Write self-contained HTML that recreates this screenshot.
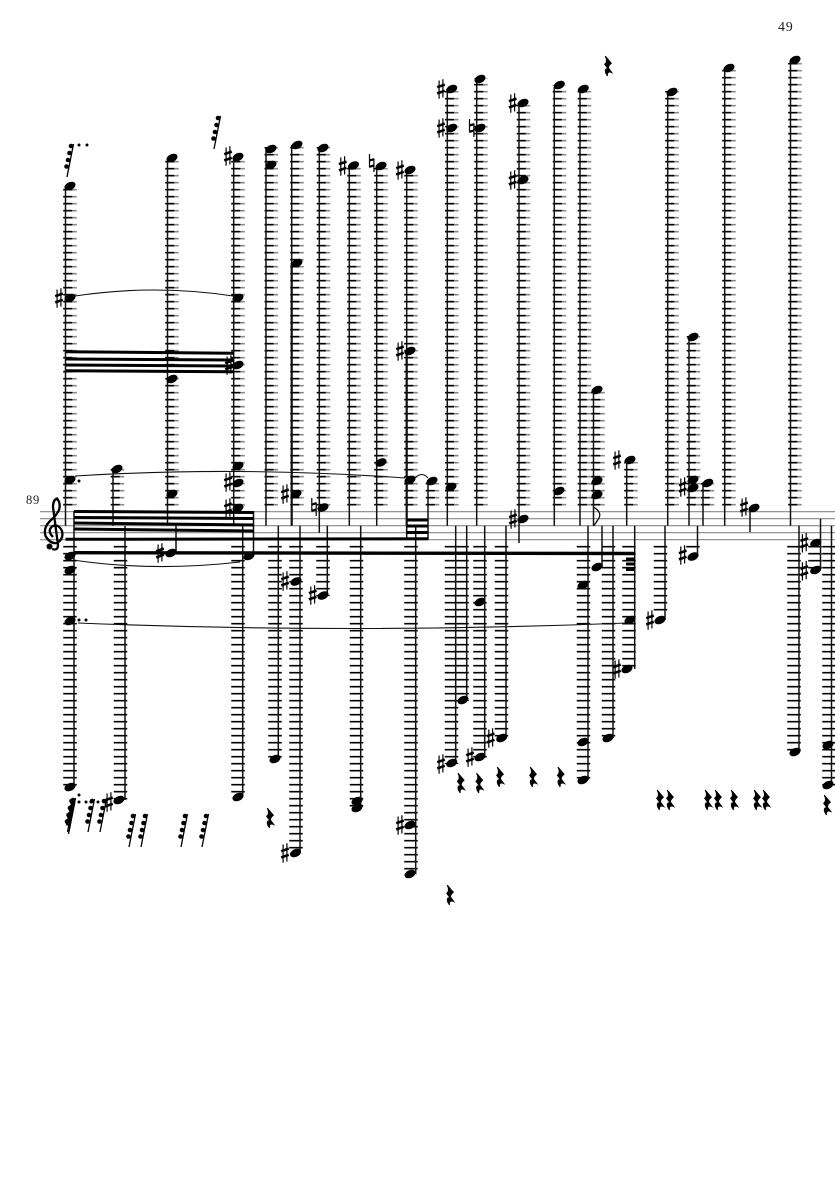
<!DOCTYPE html>
<html>
<head>
<meta charset="utf-8">
<style>
html,body{margin:0;padding:0;background:#fff}
svg{display:block}
text{font-family:"Liberation Serif",serif;fill:#222}
</style>
</head>
<body>
<svg width="835" height="1181" viewBox="0 0 835 1181" xmlns="http://www.w3.org/2000/svg">
<defs>
<ellipse id="n" rx="5.8" ry="3.9" transform="rotate(-25)" fill="#000"/>
<g id="s" stroke="#000" fill="none">
<path d="M-1.900 -8.500V9.800M1.900 -9.800V8.500" stroke-width="1.200"/>
<path d="M-3.800 -1.800L3.800 -4.400M-3.800 4.400L3.800 1.800" stroke-width="2.600"/>
</g>
<g id="h" stroke="#000" fill="none">
<path d="M-2.200 -9V4.500M2.200 -4.500V9" stroke-width="1.200"/>
<path d="M-2.200 -2.400L2.200 -3.800M-2.200 3.800L2.200 2.400" stroke-width="2.200"/>
</g>
<path id="r" transform="scale(1.1)" d="M-2.500 -9L3 -2.500Q0 0 0.500 2L3.500 6Q-1 4 -0.500 9L-2 6.500Q-3.500 2 0 2.500L-3 -1.500Q0 -4 -2.500 -9Z" fill="#000" stroke="#000" stroke-width=".9"/>
<g id="f">
<path d="M0 17L6.500 -16" stroke="#000" stroke-width="1.300"/>
<circle cx="4" cy="-14" r="2.300"/><circle cx="2.500" cy="-7" r="2.300"/><circle cx="1" cy="0" r="2.300"/><circle cx="-.5" cy="6.500" r="2.300"/>
</g>
<path id="u" d="M70 505.550V185M117.500 505.550V468M172 505.550V157M238 505.550V156M271.300 505.550V147M297 505.550V144M323.500 505.550V147M354 505.550V165M381 505.550V168M411 505.550V170M432.500 505.550V480M451.800 505.550V88M481 505.550V78M523.500 505.550V102M559.500 505.550V85M584.500 505.550V88M598 505.550V389M631 505.550V459M672 505.550V91M693.500 505.550V336M707.500 505.550V482M729 505.550V67M795 505.550V59"/>
</defs>

<text x="778" y="31" font-size="14" letter-spacing=".8">49</text>
<text x="26" y="504" font-size="12.500" letter-spacing=".7">89</text>

<!-- staff -->
<path d="M40 511.700H835M40 518.700H835M40 525.700H835M40 532.700H835M40 539.700H835" stroke="#888" stroke-width="1.200"/>

<!-- ledger lines above -->
<g fill="none" stroke="#888" stroke-width="13.500" stroke-dasharray="1.700 5.300">
<use href="#u"/>
</g>
<g fill="none" stroke="#000" stroke-width="9" stroke-dasharray="1.700 5.300">
<use href="#u" x="-2.250"/>
</g>
<!-- ledger lines below -->
<g fill="none" stroke="#000" stroke-width="13.500" stroke-dasharray="1.700 5.300">
<path d="M70 545.850V788M120.500 545.850V801M238 545.850V798M275 545.850V760M296 545.850V854M323 545.850V596M356.500 545.850V811M411 545.850V875M451.500 545.850V764M462 545.850V701M480 545.850V758M501.500 545.850V739M583.500 545.850V781M608.500 545.850V739M629 545.850V670M660.500 545.850V615M693 545.850V549M794 545.850V753M815 545.850V572M829 545.850V786"/>
</g>

<!-- stems -->
<g fill="none" stroke="#111" stroke-width="1.500">
<path d="M65.500 186V525.700M113 469V525.700M167.500 158V525.700M233.700 157V525.700M266 148V525.700M319.300 148V532.700M349.300 165V525.700M376.700 168V525.700M406.700 172V540M428 481V540M447.300 90V525.700M476.700 78V525.700M519 103V543M554.300 87V525.700M580 89V525.700M593.500 390V525.700M626.700 460V525.700M667.700 92V525.700M689 337V525.700M703 483V525.700M724.700 68V525.700M790.500 60V525.700M750 507V532"/>
<path d="M74 511V787M125 525.700V800M176 525.700V553M242.700 525.700V797M253.500 511V556M278.300 525.700V759M300 525.700V853M327.300 525.700V594M360.700 525.700V808M415.700 525.700V874M455.700 525.700V763M466.700 525.700V700M484.700 525.700V757M506 525.700V737M588 525.700V780M602 525.700V567M613 525.700V738M634.700 525.700V669M665 525.700V620M697.500 525.700V557M799 525.700V752M820.500 519V569M831.500 525.700V785"/>
<path d="M291.700 145V263" />
<path d="M291.700 263V525.700M406.700 350V525.700" stroke-width="2.200"/>
<path d="M593.500 507Q602 512 599 518Q596 523 593.500 526" stroke-width="1.300"/>
</g>

<!-- beams -->
<g stroke="#000" fill="none" stroke-width="3">
<path d="M74 511.500L254 512.500M74 517.500L254 518.500M74 523L254 525M74 529L254 531"/>
<path d="M65.500 351.700L233.700 353.300M65.500 359L233.700 360M65.500 365L233.700 366M65.500 370.700L233.700 371.700"/>
<path d="M406.700 520H428M406.700 526H428M406.700 532.500H428"/>
<path d="M65.500 539.300L428 538.800" stroke-width="3"/>
<path d="M74 552.700L635 553.500" stroke-width="3.400"/>
<path d="M626 559H635M626 564H635M626 569.500H635"/>
</g>

<!-- slurs -->
<g fill="none" stroke="#111" stroke-width="1.100">
<path d="M75 296Q154 284 233 296"/>
<path d="M75 476Q240 466 405 478"/>
<path d="M73 560Q153 572 240 562"/>
<path d="M78 623Q352 634 627 623"/>
<path d="M415 478Q422 471 428 478"/>
</g>

<!-- clef -->
<g fill="none" stroke="#000">
<path d="M52 549Q58 551 58 545L53 507Q53 500 57 498.500Q61 503 59 510Q56 516 50 521Q43 528 45.500 536Q50 544 57 543Q64 539 62 531Q58 523 52 526.500Q47 531 53 537" stroke-width="2.300"/>
<circle cx="49.500" cy="546.500" r="3" fill="#000" stroke="none"/>
</g>

<!-- noteheads -->
<g>
<use href="#n" x="70" y="186"/><use href="#n" x="70" y="298"/><use href="#n" x="70" y="480"/><use href="#n" x="70" y="556"/><use href="#n" x="70" y="570"/><use href="#n" x="70" y="621"/><use href="#n" x="70" y="787"/>
<use href="#n" x="117" y="469"/><use href="#n" x="119" y="800"/>
<use href="#n" x="172" y="158"/><use href="#n" x="172" y="379"/><use href="#n" x="172" y="494"/><use href="#n" x="171" y="553"/>
<use href="#n" x="238" y="157"/><use href="#n" x="238" y="298"/><use href="#n" x="238" y="365"/><use href="#n" x="238" y="466"/><use href="#n" x="238" y="483"/><use href="#n" x="238" y="508"/><use href="#n" x="238" y="797"/><use href="#n" x="249" y="556"/>
<use href="#n" x="271" y="149"/><use href="#n" x="271" y="165"/><use href="#n" x="275" y="759"/>
<use href="#n" x="297" y="145"/><use href="#n" x="297" y="263"/><use href="#n" x="296" y="494"/><use href="#n" x="296" y="581.500"/><use href="#n" x="295.500" y="853"/>
<use href="#n" x="323" y="148"/><use href="#n" x="323" y="507.500"/><use href="#n" x="323" y="595.500"/>
<use href="#n" x="353.500" y="165.500"/><use href="#n" x="357" y="801"/><use href="#n" x="357" y="808"/>
<use href="#n" x="381" y="166"/><use href="#n" x="381" y="462.500"/>
<use href="#n" x="410" y="170"/><use href="#n" x="410" y="351"/><use href="#n" x="410" y="480"/><use href="#n" x="410" y="825"/><use href="#n" x="410" y="874"/>
<use href="#n" x="432" y="481"/>
<use href="#n" x="451.700" y="89"/><use href="#n" x="451.700" y="128"/><use href="#n" x="451" y="487"/><use href="#n" x="451.700" y="763"/><use href="#n" x="463" y="700"/>
<use href="#n" x="480" y="79"/><use href="#n" x="480" y="128"/><use href="#n" x="480" y="602"/><use href="#n" x="480" y="757"/><use href="#n" x="501.700" y="738"/>
<use href="#n" x="523" y="103"/><use href="#n" x="523" y="180"/><use href="#n" x="523" y="519"/>
<use href="#n" x="559.300" y="85"/><use href="#n" x="559" y="491"/>
<use href="#n" x="583.300" y="89"/><use href="#n" x="583" y="585"/><use href="#n" x="583" y="742"/><use href="#n" x="583" y="780"/>
<use href="#n" x="597" y="390"/><use href="#n" x="597" y="481"/><use href="#n" x="597" y="495"/><use href="#n" x="597" y="567"/><use href="#n" x="608" y="738"/>
<use href="#n" x="630" y="460"/><use href="#n" x="630" y="620"/><use href="#n" x="627" y="669"/>
<use href="#n" x="660" y="620"/><use href="#n" x="672" y="92"/>
<use href="#n" x="693" y="337"/><use href="#n" x="693" y="480"/><use href="#n" x="693" y="488"/><use href="#n" x="693" y="556.500"/><use href="#n" x="707.700" y="483"/>
<use href="#n" x="729" y="68"/><use href="#n" x="754" y="508"/>
<use href="#n" x="795" y="60"/><use href="#n" x="795" y="752"/>
<use href="#n" x="815.700" y="543"/><use href="#n" x="815.700" y="570"/><use href="#n" x="828" y="745"/><use href="#n" x="828" y="785"/>
</g>

<!-- sharps -->
<g>
<use href="#s" x="59" y="298"/><use href="#s" x="228" y="156"/><use href="#s" x="229" y="365"/><use href="#s" x="228" y="482"/><use href="#s" x="228" y="508"/><use href="#s" x="160" y="553"/><use href="#s" x="109" y="802"/>
<use href="#s" x="285" y="494"/><use href="#s" x="285" y="581"/><use href="#s" x="285" y="853"/><use href="#s" x="312.700" y="595"/><use href="#s" x="342.700" y="166"/><use href="#s" x="400" y="170"/><use href="#s" x="400" y="351"/><use href="#s" x="400" y="825"/>
<use href="#s" x="441" y="89"/><use href="#s" x="441" y="128"/><use href="#s" x="441" y="764"/><use href="#s" x="470" y="757"/><use href="#s" x="490.700" y="738"/>
<use href="#s" x="512.700" y="103"/><use href="#s" x="512.700" y="180"/><use href="#s" x="513" y="519"/>
<use href="#s" x="617" y="460"/><use href="#s" x="617" y="669"/><use href="#s" x="650" y="620"/><use href="#s" x="682.700" y="487"/><use href="#s" x="682.700" y="555"/><use href="#s" x="744" y="507"/><use href="#s" x="804.300" y="542.700"/><use href="#s" x="804.300" y="570.700"/>
</g>

<!-- naturals -->
<g>
<use href="#h" x="371.700" y="163"/><use href="#h" x="471.700" y="128"/><use href="#h" x="314" y="507"/>
</g>

<!-- rests -->
<g>
<use href="#r" x="608" y="66"/><use href="#r" x="460.700" y="783"/><use href="#r" x="479.300" y="783"/><use href="#r" x="500" y="777"/><use href="#r" x="533" y="777"/><use href="#r" x="560.700" y="777"/>
<use href="#r" x="660" y="800"/><use href="#r" x="670" y="800"/><use href="#r" x="708" y="800"/><use href="#r" x="718" y="800"/><use href="#r" x="734" y="800"/><use href="#r" x="757" y="800"/><use href="#r" x="766" y="800"/><use href="#r" x="827" y="805"/><use href="#r" x="270" y="818"/><use href="#r" x="450" y="895"/>
</g>

<!-- slashed grace figures -->
<g>
<use href="#f" x="67" y="160"/><use href="#f" x="214" y="132"/>
<use href="#f" x="67.500" y="815"/><use href="#f" x="68.500" y="817"/><use href="#f" x="69" y="814"/><use href="#f" x="88" y="815"/><use href="#f" x="100" y="815"/>
<use href="#f" x="129" y="830"/><use href="#f" x="141" y="830"/><use href="#f" x="181" y="830"/><use href="#f" x="202" y="830"/>
</g>

<!-- dots -->
<g>
<circle cx="79" cy="145" r="1.500"/><circle cx="87" cy="145" r="1.500"/>
<circle cx="79" cy="481" r="1.500"/>
<circle cx="79" cy="620" r="1.500"/><circle cx="86" cy="620" r="1.500"/>
<circle cx="79" cy="795" r="1.500"/><circle cx="79" cy="802" r="1.500"/><circle cx="86" cy="802" r="1.500"/><circle cx="91" cy="802" r="1.500"/><circle cx="98" cy="802" r="1.500"/><circle cx="104" cy="802" r="1.500"/>
</g>
</svg>
</body>
</html>
